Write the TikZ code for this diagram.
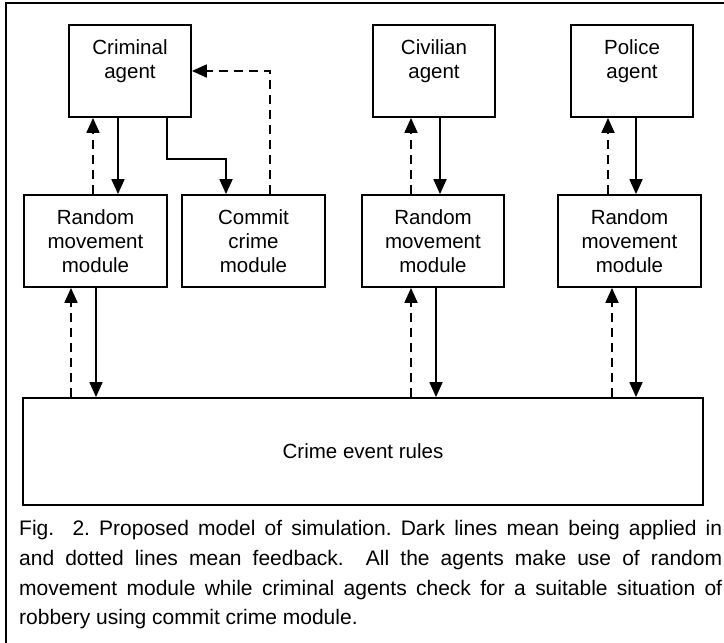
\documentclass[tikz,border=0pt]{standalone}
\usepackage{fontspec}
\setmainfont{Liberation Sans}
\usetikzlibrary{arrows.meta}

\begin{document}
\frenchspacing
\begin{tikzpicture}[x = 1pt, y = -1pt]
	\tikzstyle{agentStyle} = [draw, line width = 1.8pt, minimum width = 122pt, minimum height = 92pt, inner sep = 0pt, align = center, font = \fontsize{20.5}{23.7}\selectfont]
	\tikzstyle{moduleStyle} = [agentStyle, minimum width = 143pt]
	\tikzstyle{rulesStyle} = [agentStyle, minimum width = 680pt, minimum height = 107pt]
	\tikzstyle{appliedStyle} = [line width = 1.8pt, -{Triangle[length = 15pt, width = 13pt]}]
	\tikzstyle{feedbackStyle} = [appliedStyle, dash pattern = on 9pt off 6pt]
	\tikzstyle{captionStyle} = [inner sep = 0pt, text width = 703pt, align = justify, font = \fontsize{21}{29.8}\selectfont]
	\useasboundingbox (0,0) rectangle (724,643);
	\draw[line width = 1.8pt] (724,3) -- (6,3) -- (6,643);
	\node[agentStyle] (crimAgent) at (130,71) {Criminal\\agent\\\mbox{}};
	\node[agentStyle] (civAgent) at (434,71) {Civilian\\agent\\\mbox{}};
	\node[agentStyle] (polAgent) at (632,71) {Police\\agent\\\mbox{}};
	\node[moduleStyle] (crimRMM) at (95.5,241) {Random\\movement\\module};
	\node[moduleStyle] (commit) at (253.5,241) {Commit\\crime\\module};
	\node[moduleStyle, minimum width = 142pt] (civRMM) at (433,241) {Random\\movement\\module};
	\node[moduleStyle] (polRMM) at (629.5,241) {Random\\movement\\module};
	\node[rulesStyle] (rules) at (363,451.5) {Crime event rules};
	\node[captionStyle, anchor = north west] (caption) at (19,520) {Fig.\ \ 2. Proposed model of simulation. Dark lines mean being applied in\linebreak and dotted lines mean feedback.\ \ All the agents make use of random\linebreak movement module while criminal agents check for a suitable situation of\linebreak robbery using commit crime module.};
	\draw[appliedStyle] ([xshift = -12pt]crimAgent.south) -- ([xshift = -12pt]crimAgent.south |- crimRMM.north);
	\draw[feedbackStyle] ([xshift = -2.5pt]crimRMM.north) -- ([xshift = -2.5pt]crimRMM.north |- crimAgent.south);
	\draw[appliedStyle] ([xshift = 37pt]crimAgent.south) -- ++(0,41) -| ([xshift = -27.5pt]commit.north);
	\draw[feedbackStyle] ([xshift = 16.5pt]commit.north) |- (crimAgent.east);
	\draw[appliedStyle] ([xshift = 0.5pt]crimRMM.south) -- ([xshift = 0.5pt]crimRMM.south |- rules.north);
	\draw[feedbackStyle] ([xshift = -24.5pt]crimRMM.south |- rules.north) -- ([xshift = -24.5pt]crimRMM.south);
	\draw[appliedStyle] ([xshift = 6pt]civAgent.south) -- ([xshift = 6pt]civAgent.south |- civRMM.north);
	\draw[feedbackStyle] ([xshift = -22pt]civRMM.north) -- ([xshift = -22pt]civRMM.north |- civAgent.south);
	\draw[appliedStyle] ([xshift = 3pt]civRMM.south) -- ([xshift = 3pt]civRMM.south |- rules.north);
	\draw[feedbackStyle] ([xshift = -22pt]civRMM.south |- rules.north) -- ([xshift = -22pt]civRMM.south);
	\draw[appliedStyle] ([xshift = 4pt]polAgent.south) -- ([xshift = 4pt]polAgent.south |- polRMM.north);
	\draw[feedbackStyle] ([xshift = -21.5pt]polRMM.north) -- ([xshift = -21.5pt]polRMM.north |- polAgent.south);
	\draw[appliedStyle] ([xshift = 6.5pt]polRMM.south) -- ([xshift = 6.5pt]polRMM.south |- rules.north);
	\draw[feedbackStyle] ([xshift = -17.5pt]polRMM.south |- rules.north) -- ([xshift = -17.5pt]polRMM.south);
\end{tikzpicture}
\end{document}
